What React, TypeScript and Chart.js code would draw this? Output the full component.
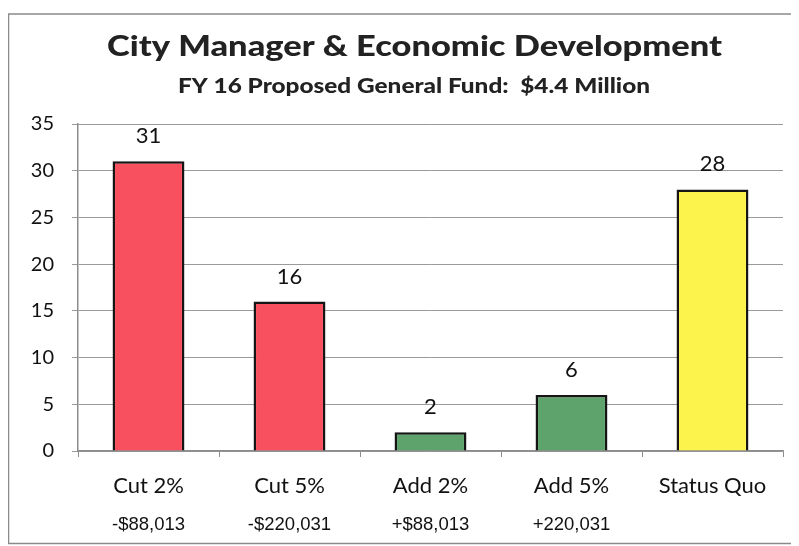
import React, { useEffect, useRef } from "react";
import { Chart, registerables } from "chart.js";

Chart.register(...registerables);

const categories = ["Cut 2%", "Cut 5%", "Add 2%", "Add 5%", "Status Quo"];
const subLabels = ["-$88,013", "-$220,031", "+$88,013", "+220,031", ""];
const values = [31, 16, 2, 6, 28];
const barColors = ["#f9505f", "#f9505f", "#5ea36b", "#5ea36b", "#fdf34d"];
const titleText = "City Manager & Economic Development";
const subtitleText = "FY 16 Proposed General Fund:  $4.4 Million";

const FONT = "Lato, 'Noto Sans', sans-serif";

function stretchedText(ctx: any, text: string, cx: number, y: number, font: string, targetW: number) {
  ctx.save();
  ctx.font = font;
  const w = ctx.measureText(text).width;
  const sx = targetW / w;
  ctx.translate(cx, y);
  ctx.scale(sx, 1);
  ctx.textAlign = "center";
  ctx.textBaseline = "alphabetic";
  ctx.fillText(text, 0, 0);
  ctx.restore();
}

const framePlugin = {
  id: "frame",
  beforeDraw(chart: any) {
    const { ctx, width } = chart;
    ctx.save();
    ctx.fillStyle = "#ffffff";
    ctx.fillRect(0, 0, chart.width, chart.height);
    ctx.strokeStyle = "#8a8a8a";
    ctx.lineWidth = 1.5;
    ctx.beginPath();
    ctx.moveTo(width, 6);
    ctx.lineTo(0.5, 6);
    ctx.lineTo(0.5, 535.5);
    ctx.lineTo(width, 535.5);
    ctx.stroke();
    ctx.fillStyle = "#222222";
    stretchedText(ctx, titleText, 406.5, 48, `900 28px ${FONT}`, 615);
    stretchedText(ctx, subtitleText, 406, 85, `900 21px ${FONT}`, 472);
    ctx.restore();
  },
};

const labelPlugin = {
  id: "valueLabels",
  afterDatasetsDraw(chart: any) {
    const { ctx } = chart;
    const meta = chart.getDatasetMeta(0);
    ctx.save();
    ctx.fillStyle = "#111111";
    ctx.font = `22px ${FONT}`;
    ctx.textAlign = "center";
    ctx.textBaseline = "alphabetic";
    meta.data.forEach((bar: any, i: number) => {
      ctx.fillText(String(values[i]), bar.x, bar.y - 18);
    });
    const xs = chart.scales.x;
    ctx.font = "18.5px 'Liberation Sans', Arial, sans-serif";
    ctx.textBaseline = "middle";
    subLabels.forEach((t, i) => {
      ctx.fillText(t, xs.getPixelForValue(i), 517);
    });
    ctx.restore();
  },
};

export default function App() {
  const ref = useRef<HTMLCanvasElement>(null);
  useEffect(() => {
    const chart = new Chart(ref.current!, {
      type: "bar",
      data: {
        labels: categories,
        datasets: [
          {
            data: values,
            backgroundColor: barColors,
            borderColor: "#151515",
            borderWidth: 2.5,
            categoryPercentage: 1,
            barPercentage: 0.51,
          },
        ],
      },
      options: {
        animation: false,
        responsive: true,
        maintainAspectRatio: false,
        layout: { padding: { left: 8, right: 16, top: 116, bottom: 0 } },
        plugins: {
          legend: { display: false },
          tooltip: { enabled: false },
          title: { display: false },
          subtitle: { display: false },
        },
        scales: {
          x: {
            grid: { drawOnChartArea: false, tickLength: 6, color: "#8c8c8c", offset: true },
            border: { color: "#8c8c8c", width: 1.5 },
            ticks: { color: "#111", font: { family: FONT, size: 22 }, padding: 16, maxRotation: 0 },
            afterFit(scale: any) {
              scale.height = 95;
            },
          },
          y: {
            min: 0,
            max: 35,
            ticks: { stepSize: 5, color: "#111", font: { family: FONT, size: 20 }, padding: 18 },
            grid: { color: "#9a9a9a", tickLength: 6, lineWidth: 1 },
            border: { color: "#8c8c8c", width: 1.5 },
            afterFit(scale: any) {
              scale.width = 62;
            },
          },
        },
      },
      plugins: [framePlugin, labelPlugin],
    });
    return () => chart.destroy();
  }, []);
  return (
    <div style={{ position: "relative", width: 791, height: 538 }}>
      <canvas ref={ref} />
    </div>
  );
}
